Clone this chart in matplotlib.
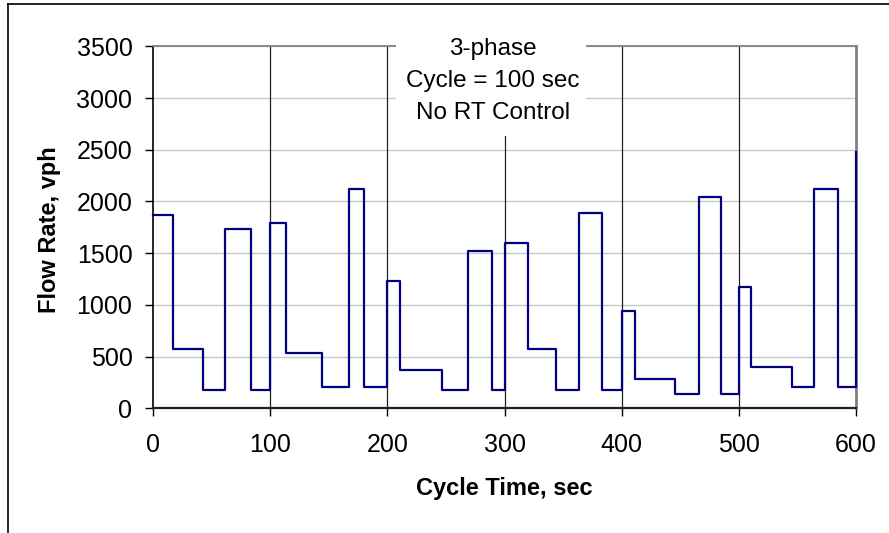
import matplotlib
matplotlib.use("Agg")
import matplotlib.pyplot as plt
from matplotlib.patches import Rectangle
from matplotlib.lines import Line2D

plt.rcParams['font.family'] = ['Liberation Sans', 'DejaVu Sans']

# Step data (time in sec, flow in vph, steps-post)
cycleTime = [0, 16.5, 42.4, 61, 83.3, 100, 113.7, 144.4, 166.8, 180.2,
             200, 210.6, 246.7, 268.9, 289.3, 300, 319.7, 343.6, 364, 383.1,
             400, 411.5, 445.9, 466, 484.8, 500, 510.4, 546, 564.7, 585.2, 600]
flowRate = [1870, 575, 174, 1734, 174, 1795, 538, 209, 2121, 209,
            1234, 367, 174, 1524, 174, 1601, 576, 174, 1889, 174,
            941, 286, 135, 2044, 135, 1173, 402, 209, 2121, 209, 2480]
cycleBounds = [100, 200, 300, 400, 500]
xTicks = [0, 100, 200, 300, 400, 500, 600]
yTicks = [0, 500, 1000, 1500, 2000, 2500, 3000, 3500]
noteLines = ["3-phase", "Cycle = 100 sec", "No RT Control"]

W, H = 889, 533
fig = plt.figure(figsize=(W / 100, H / 100), dpi=100)
ax = fig.add_axes([153.3 / W, 1 - 408.3 / H, (855.7 - 153.3) / W, (408.3 - 46.4) / H])

ax.set_xlim(0, 600)
ax.set_ylim(0, 3500)
ax.set_xticks(xTicks)
ax.set_yticks(yTicks)
ax.tick_params(labelsize=18, length=6, width=1, direction='out', color='black')
ax.tick_params(axis='x', pad=12)
ax.tick_params(axis='y', pad=9)

# horizontal gridlines
for v in yTicks[1:]:
    ax.axhline(v, color='#c8c8c8', lw=1.0, zorder=1)

# cycle boundary lines
ax.vlines(cycleBounds, 0, 3500, color='#202020', lw=0.9, zorder=2)

# flow rate step series
ax.plot(cycleTime, flowRate, drawstyle='steps-post', color='#000080', lw=1.6,
        zorder=4, clip_on=False)

for side in ['top', 'right']:
    ax.spines[side].set_color('#808080')
ax.spines['top'].set_linewidth(1.3)
ax.spines['right'].set_linewidth(2.0)
ax.spines['left'].set_linewidth(1.2)
ax.spines['bottom'].set_linewidth(1.6)
ax.spines['bottom'].set_color('#202020')

# white note box covering the top of the plot
ax.add_patch(Rectangle((207, 2630), 163, 1100, facecolor='white', edgecolor='none',
                       zorder=5, clip_on=False))
for i, line in enumerate(noteLines):
    fig.text(493 / W, 1 - (49 + 32 * i) / H, line, ha='center', va='center',
             fontsize=17.5, zorder=6)

fig.text(504 / W, 1 - 489 / H, "Cycle Time, sec", ha='center', va='center',
         fontsize=17, fontweight='bold')
fig.text(50 / W, 1 - 230 / H, "Flow Rate, vph", ha='center', va='center',
         fontsize=17, fontweight='bold', rotation=90)

# outer frame (left and top edges visible)
fig.add_artist(Line2D([7.5 / W, 7.5 / W], [0, 1 - 3.5 / H], color='black', lw=1.2))
fig.add_artist(Line2D([7.5 / W, 1], [1 - 3.5 / H, 1 - 3.5 / H], color='black', lw=1.2))

fig.savefig("out.png", dpi=100)
